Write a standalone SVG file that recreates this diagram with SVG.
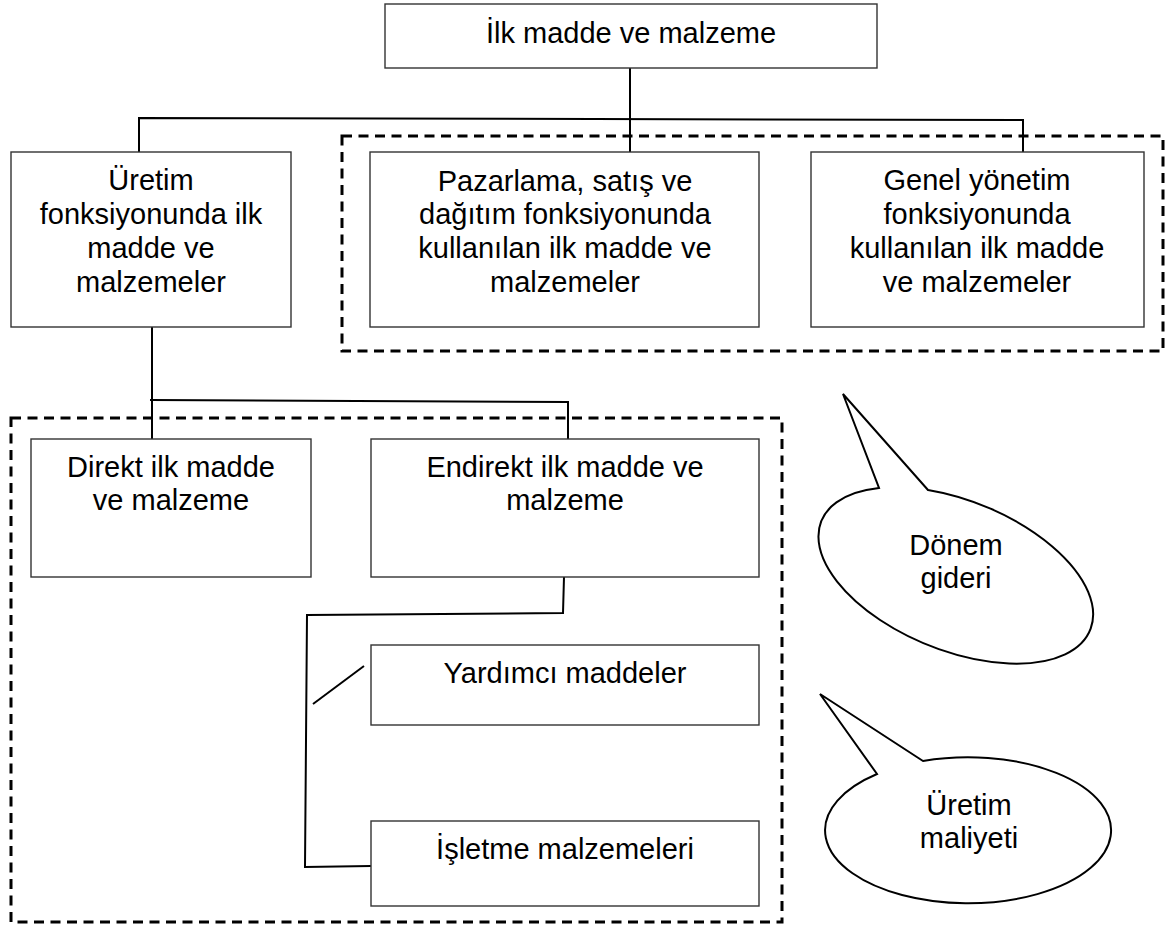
<svg xmlns="http://www.w3.org/2000/svg" width="1170" height="935" viewBox="0 0 1170 935">
<style>
.box{fill:#fff;stroke:#333;stroke-width:1.4}
.dash{fill:none;stroke:#000;stroke-width:3;stroke-dasharray:10 6.5}
.con{fill:none;stroke:#000;stroke-width:2}
.call{fill:#fff;stroke:#000;stroke-width:2;stroke-linejoin:miter}
text{font-family:"Liberation Sans",Arial,sans-serif;font-size:29px;fill:#000;text-anchor:middle}
</style>
<rect width="1170" height="935" fill="#fff"/>
<g id="groups">
<rect class="dash" x="342" y="136" width="821" height="215"/>
<rect class="dash" x="11" y="418" width="771" height="504"/>
</g>
<g id="connectors">
<line class="con" x1="630" y1="68" x2="630" y2="152"/>
<polyline class="con" points="139,152 139,118 1023,120 1023,152"/>
<line class="con" x1="152" y1="327" x2="152" y2="439"/>
<polyline class="con" points="150,400 568,402 568,439"/>
<polyline class="con" points="564,577 563,613 307,615 305,867 371,866"/>
<line class="con" x1="313" y1="704" x2="364" y2="666"/>
</g>
<g id="n-top"><rect class="box" x="385" y="4" width="492" height="64"/><text x="631" y="43">İlk madde ve malzeme</text></g>
<g id="n-uretim"><rect class="box" x="11" y="152" width="280" height="175"/>
<text x="151" y="190">Üretim</text><text x="151" y="224">fonksiyonunda ilk</text><text x="151" y="258">madde ve</text><text x="151" y="292">malzemeler</text></g>
<g id="n-pazarlama"><rect class="box" x="370" y="152" width="389" height="175"/>
<text x="565" y="191">Pazarlama, satış ve</text><text x="565" y="224">dağıtım fonksiyonunda</text><text x="565" y="258">kullanılan ilk madde ve</text><text x="565" y="292">malzemeler</text></g>
<g id="n-genel"><rect class="box" x="811" y="152" width="333" height="175"/>
<text x="977" y="190">Genel yönetim</text><text x="977" y="224">fonksiyonunda</text><text x="977" y="258">kullanılan ilk madde</text><text x="977" y="292">ve malzemeler</text></g>
<g id="n-direkt"><rect class="box" x="31" y="439" width="280" height="138"/>
<text x="171" y="477">Direkt ilk madde</text><text x="171" y="510">ve malzeme</text></g>
<g id="n-endirekt"><rect class="box" x="371" y="439" width="388" height="138"/>
<text x="565" y="477">Endirekt ilk madde ve</text><text x="565" y="510">malzeme</text></g>
<g id="n-yardimci"><rect class="box" x="371" y="645" width="388" height="80"/>
<text x="565" y="683">Yardımcı maddeler</text></g>
<g id="n-isletme"><rect class="box" x="371" y="821" width="388" height="85"/>
<text x="565" y="859">İşletme malzemeleri</text></g>
<g id="n-donem">
<path class="call" d="M928,490 L843,394 L879,488 A145,75 22 1 0 928,490 Z"/>
<text x="956" y="555">Dönem</text><text x="956" y="588">gideri</text></g>
<g id="n-maliyet">
<path class="call" d="M923,761 L820,694 L877,774 A143,73 0 1 0 923,761 Z"/>
<text x="969" y="815">Üretim</text><text x="969" y="848">maliyeti</text></g>
</svg>
